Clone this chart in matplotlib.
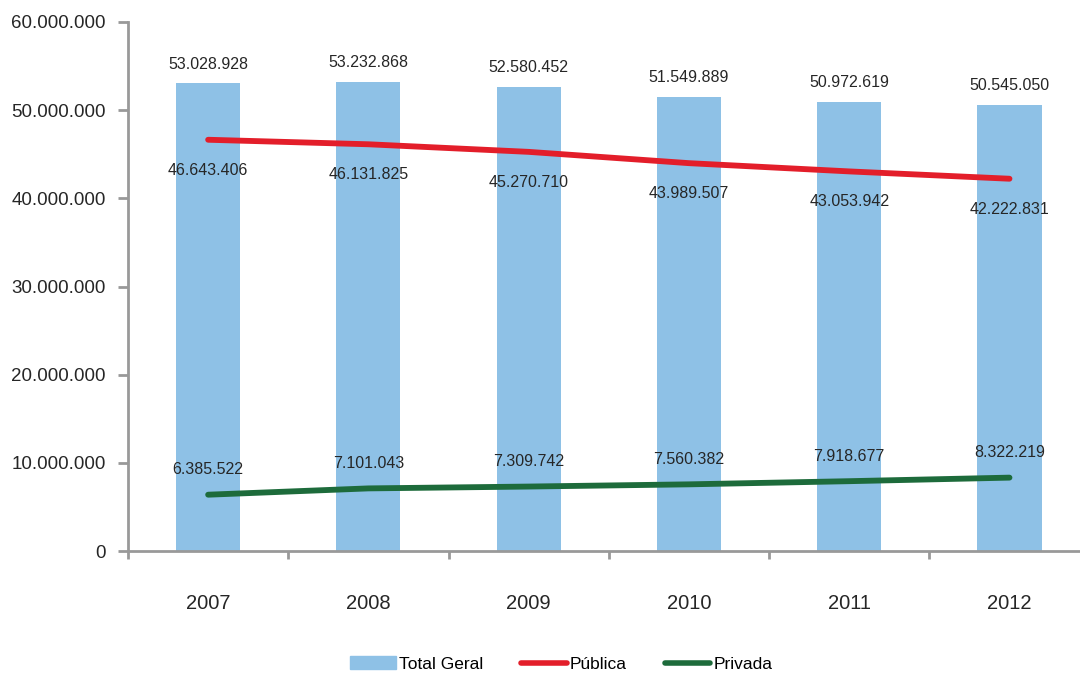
import numpy as np
import matplotlib.pyplot as plt
from matplotlib.ticker import FuncFormatter, FixedLocator
from matplotlib.patches import Patch
from matplotlib.lines import Line2D

plt.rcParams['font.family'] = ['Liberation Sans', 'DejaVu Sans']

years = ["2007", "2008", "2009", "2010", "2011", "2012"]
total_geral = [53028928, 53232868, 52580452, 51549889, 50972619, 50545050]
publica = [46643406, 46131825, 45270710, 43989507, 43053942, 42222831]
privada = [6385522, 7101043, 7309742, 7560382, 7918677, 8322219]

c_bar = "#8EC1E6"
c_pub = "#E31E2A"
c_priv = "#1D6B3B"
c_axis = "#999999"
c_text = "#262626"


def fmt(v):
    return f"{int(v):,}".replace(",", ".")


fig = plt.figure(figsize=(10.8, 6.75), dpi=100)
ax = fig.add_axes([128 / 1080, 1 - 551 / 675, 1 - 128 / 1080, (551 - 22) / 675])

x = np.arange(len(years))
ax.bar(x, total_geral, width=0.4, color=c_bar, zorder=1)
ax.plot(x, publica, color=c_pub, lw=4.2, solid_capstyle="round", zorder=3)
ax.plot(x, privada, color=c_priv, lw=4.2, solid_capstyle="round", zorder=3)

for xi, t, p, q in zip(x, total_geral, publica, privada):
    ax.annotate(fmt(t), (xi, t), xytext=(0, 14), textcoords="offset points",
                ha="center", va="center", fontsize=11.5, color=c_text)
    ax.annotate(fmt(p), (xi, p), xytext=(0, -22), textcoords="offset points",
                ha="center", va="center", fontsize=11.5, color=c_text)
    ax.annotate(fmt(q), (xi, q), xytext=(0, 18), textcoords="offset points",
                ha="center", va="center", fontsize=11.5, color=c_text)

ax.set_ylim(0, 60000000)
ax.set_xlim(-0.5, 5.44)
ax.set_yticks(np.arange(0, 60000001, 10000000))
ax.yaxis.set_major_formatter(FuncFormatter(lambda v, _: fmt(v)))

ax.set_xticks(x)
ax.set_xticklabels(years)
ax.xaxis.set_minor_locator(FixedLocator(np.arange(-0.5, 5.5, 1)))
ax.tick_params(axis="x", which="major", length=0, pad=31, labelsize=14.5, labelcolor=c_text)
ax.tick_params(axis="x", which="minor", length=6, width=2, color=c_axis)
ax.tick_params(axis="y", length=7, width=2, color=c_axis, pad=9, labelsize=13.5, labelcolor=c_text)

for s in ["top", "right"]:
    ax.spines[s].set_visible(False)
for s in ["left", "bottom"]:
    ax.spines[s].set_color(c_axis)
    ax.spines[s].set_linewidth(2)

handles = [Patch(color=c_bar, label="Total Geral"),
           Line2D([], [], color=c_pub, lw=4, solid_capstyle="round", label="Pública"),
           Line2D([], [], color=c_priv, lw=4, solid_capstyle="round", label="Privada")]
fig.legend(handles=handles, loc="center", bbox_to_anchor=(0.52, 1 - 664 / 675), ncol=3,
           frameon=False, fontsize=12.5, handlelength=2.6, handletextpad=0.2,
           columnspacing=2.2)

fig.savefig("out.png", dpi=100)
